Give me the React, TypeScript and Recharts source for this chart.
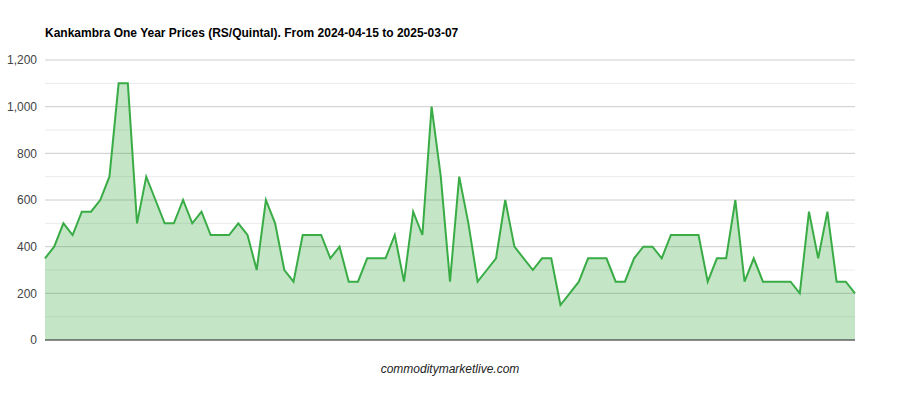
import React from "react";
import { ComposedChart, Area, XAxis, YAxis, CartesianGrid } from "recharts";

const TITLE = "Kankambra One Year Prices (RS/Quintal). From 2024-04-15 to 2025-03-07";
const FOOTER = "commoditymarketlive.com";

const prices: number[] = [
  350, 400, 500, 450, 550, 550, 600, 700, 1100, 1100,
  500, 700, 600, 500, 500, 600, 500, 550, 450, 450,
  450, 500, 450, 300, 600, 500, 300, 250, 450, 450,
  450, 350, 400, 250, 250, 350, 350, 350, 450, 250,
  550, 450, 1000, 700, 250, 700, 500, 250, 300, 350,
  600, 400, 350, 300, 350, 350, 150, 200, 250, 350,
  350, 350, 250, 250, 350, 400, 400, 350, 450, 450,
  450, 450, 250, 350, 350, 600, 250, 350, 250, 250,
  250, 250, 200, 550, 350, 550, 250, 250, 200,
];

const majorTicks = [0, 200, 400, 600, 800, 1000, 1200];
const minorTicks = [100, 300, 500, 700, 900, 1100];

const data = prices.map((price, i) => ({ idx: i, price }));

const fmt = (v: number) => v.toLocaleString("en-US");

export default function App() {
  return (
    <div
      style={{
        position: "absolute",
        left: 0,
        top: 0,
        width: 900,
        height: 400,
        background: "#fff",
        fontFamily: "Arial, 'Liberation Sans', sans-serif",
      }}
    >
      <div
        style={{
          position: "absolute",
          left: 45,
          top: 26,
          fontSize: 12,
          fontWeight: "bold",
          color: "#000",
          whiteSpace: "nowrap",
        }}
      >
        {TITLE}
      </div>
      <ComposedChart
        width={900}
        height={400}
        data={data}
        margin={{ top: 60, right: 45, bottom: 30, left: 0 }}
      >
        <CartesianGrid
          vertical={false}
          stroke="#ebebeb"
          horizontalValues={minorTicks}
        />
        <CartesianGrid
          vertical={false}
          stroke="#cccccc"
          horizontalValues={majorTicks}
        />
        <XAxis
          dataKey="idx"
          type="number"
          domain={[0, prices.length - 1]}
          tick={false}
          tickLine={false}
          axisLine={{ stroke: "#333", strokeWidth: 1 }}
          height={30}
        />
        <YAxis
          domain={[0, 1200]}
          ticks={majorTicks}
          tickFormatter={fmt}
          tickLine={false}
          axisLine={false}
          width={45}
          tick={{ fill: "#444", fontSize: 12, fontFamily: "Arial, 'Liberation Sans', sans-serif" }}
        />
        <Area
          type="linear"
          dataKey="price"
          stroke="#39ac46"
          strokeWidth={2}
          fill="#3aac46"
          fillOpacity={0.3}
          isAnimationActive={false}
          dot={false}
          activeDot={false}
        />
      </ComposedChart>
      <div
        style={{
          position: "absolute",
          left: 0,
          width: 900,
          top: 362,
          textAlign: "center",
          fontSize: 12,
          fontStyle: "italic",
          color: "#222",
        }}
      >
        {FOOTER}
      </div>
    </div>
  );
}
